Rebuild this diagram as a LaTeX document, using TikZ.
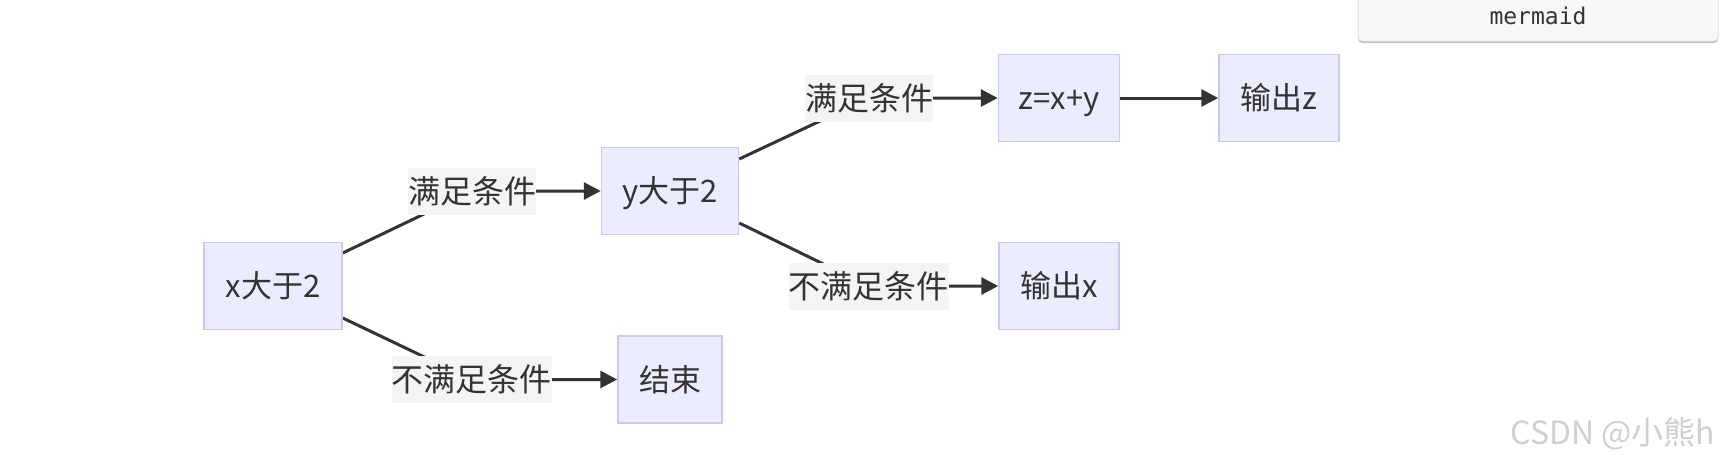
\documentclass[tikz,border=0pt]{standalone}
\usepackage{fontspec}
\setmainfont{Noto Sans CJK SC}
\setmonofont{DejaVu Sans Mono}
\usetikzlibrary{arrows.meta,backgrounds,shadows}
\definecolor{nodefill}{HTML}{ECECFF}
\definecolor{nodeborder}{HTML}{C9C9F2}
\definecolor{labelbg}{HTML}{F4F4F4}
\definecolor{ink}{HTML}{333333}
\definecolor{tabfill}{HTML}{F8F8F8}
\definecolor{tabborder}{HTML}{E2E2E2}
\definecolor{wmark}{HTML}{CFCFCF}
\begin{document}
\begin{tikzpicture}[x=1pt,y=-1pt,
  box/.style={draw=nodeborder,fill=nodefill,line width=1.5pt,minimum height=87pt,
    inner sep=0pt,text=ink,font=\fontsize{31}{37}\selectfont,text height=27.3pt,text depth=3.7pt},
  elabel/.style={fill=labelbg,inner sep=0pt,minimum height=47pt,text=ink,
    font=\fontsize{32}{38}\selectfont,text height=28.2pt,text depth=3.8pt},
  edge/.style={draw=ink,line width=3pt,-{Triangle[length=17pt,width=17pt]}},
]
\useasboundingbox (0,0) rectangle (1721,467);

\node[box,minimum width=138pt] (a) at (273,286) {x大于2};
\node[box,minimum width=137pt] (b) at (670,191) {y大于2};
\node[box,minimum width=121pt] (c) at (1059,98) {z=x+y};
\node[box,minimum width=120pt] (d) at (1279,98) {输出z};
\node[box,minimum width=120pt] (e) at (1059,286) {输出x};
\node[box,minimum width=104pt] (f) at (670,379.5) {结束};

\node[elabel] (l1) at (472,191) {满足条件};
\node[elabel] (l2) at (471.5,379.5) {不满足条件};
\node[elabel] (l3) at (869,98) {满足条件};
\node[elabel] (l4) at (868.5,286) {不满足条件};

\begin{pgfonlayer}{background}
\draw[edge] ([yshift=33pt]a.east) -- (l1.center) -- (b.west);
\draw[edge] ([yshift=-32pt]a.east) -- (l2.center) -- (f.west);
\draw[edge] ([yshift=32pt]b.east) -- (l3.center) -- (c.west);
\draw[edge] ([yshift=-32pt]b.east) -- (l4.center) -- (e.west);
\draw[edge] (c.east) -- (d.west);
\end{pgfonlayer}

\node[draw=tabborder,fill=tabfill,line width=1pt,rounded corners=4pt,minimum width=360pt,
  minimum height=50pt,inner sep=0pt,text=ink,font=\ttfamily\fontsize{23}{28}\selectfont,
  drop shadow={shadow xshift=0pt,shadow yshift=-2pt,opacity=0.25,fill=black}] (m) at (1538,16) {mermaid};

\node[text=wmark,inner sep=0pt,font=\fontsize{32}{38}\selectfont] (w) at (1613,434) {CSDN @小熊h};
\end{tikzpicture}
\end{document}
